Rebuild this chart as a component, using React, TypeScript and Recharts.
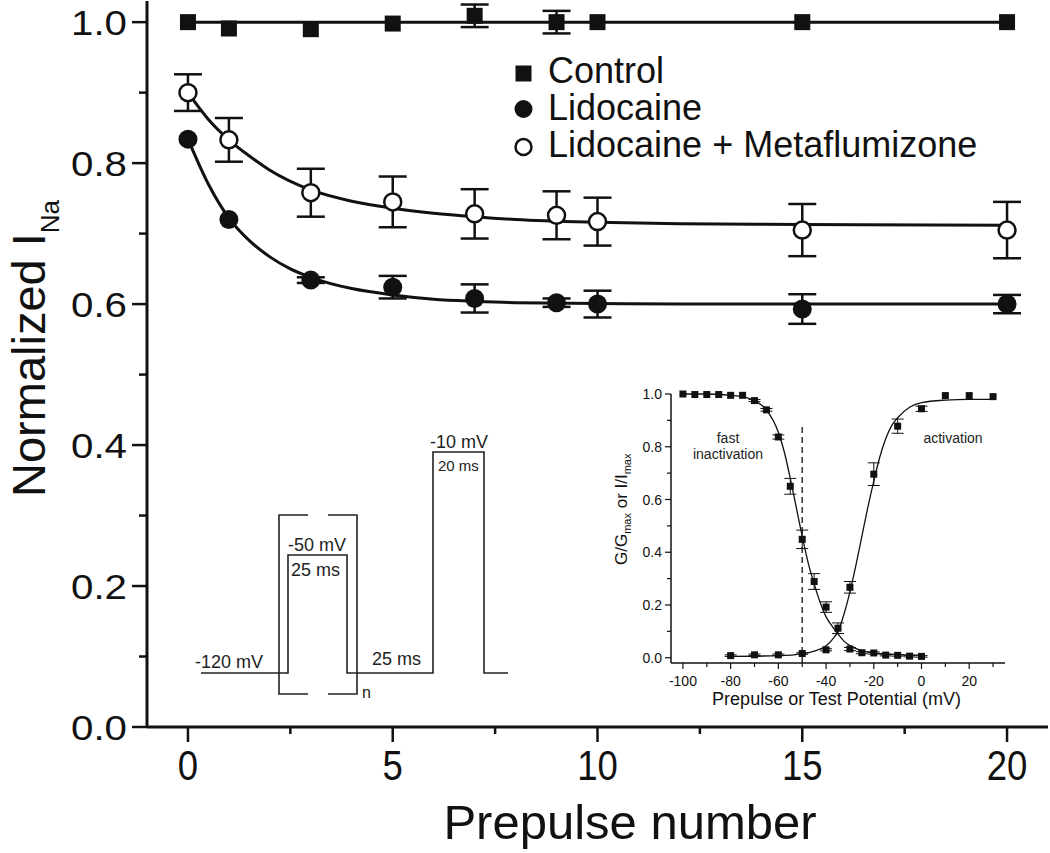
import React from 'react';
import {
  ComposedChart,
  Line,
  Scatter,
  XAxis,
  YAxis,
  ErrorBar,
  Legend,
  ReferenceLine,
} from 'recharts';

// ---- main panel: normalized I_Na vs prepulse number ----
const pulseNumbers = [0, 1, 3, 5, 7, 9, 10, 15, 20];
const controlValues = [1.0, 0.991, 0.99, 0.998, 1.009, 1.0, 1.0, 1.0, 1.0];
const controlErrors = [0, 0, 0, 0, 0.016, 0.016, 0, 0, 0];
const lidocaineValues = [0.834, 0.72, 0.634, 0.624, 0.608, 0.602, 0.6, 0.593, 0.6];
const lidocaineErrors = [0, 0, 0.004, 0.016, 0.02, 0.006, 0.019, 0.021, 0.013];
const metaValues = [0.9, 0.833, 0.758, 0.745, 0.728, 0.726, 0.717, 0.705, 0.705];
const metaErrors = [0.026, 0.031, 0.034, 0.036, 0.035, 0.034, 0.034, 0.037, 0.04];

// fitted curves
const controlFitX = [0, 20];
const controlFitY = [1.0, 1.0];
const lidoFitX = [0, 0.5, 1, 1.5, 2, 2.5, 3, 4, 5, 6, 7, 8, 10, 12, 15, 20];
const lidoFitY = [0.834, 0.77, 0.722, 0.69, 0.667, 0.65, 0.638, 0.622, 0.613, 0.607, 0.604, 0.602, 0.601, 0.6, 0.6, 0.6];
const metaFitX = [0, 0.5, 1, 1.5, 2, 3, 4, 5, 6, 7, 8, 10, 12, 15, 20];
const metaFitY = [0.9, 0.862, 0.833, 0.81, 0.79, 0.762, 0.746, 0.736, 0.729, 0.724, 0.72, 0.716, 0.714, 0.713, 0.712];

const mainYTicks = [0, 0.1, 0.2, 0.3, 0.4, 0.5, 0.6, 0.7, 0.8, 0.9, 1.0];
const mainXTicks = [0, 2.5, 5, 7.5, 10, 12.5, 15, 17.5, 20];

// ---- inset: steady-state inactivation / activation ----
const inactVoltages = [-100, -95, -90, -85, -80, -75, -70, -65, -60, -55, -50, -45, -40, -35, -30, -25, -20, -15, -10, -5, 0];
const inactValues = [1.0, 0.998, 0.998, 0.998, 0.995, 0.995, 0.975, 0.94, 0.837, 0.65, 0.449, 0.289, 0.192, 0.112, 0.033, 0.019, 0.018, 0.01, 0.009, 0.006, 0.005];
const inactErrors = [0, 0, 0, 0, 0, 0, 0.004, 0.005, 0.008, 0.03, 0.035, 0.03, 0.02, 0.02, 0.006, 0.004, 0.004, 0.003, 0.003, 0.003, 0.003];
const actVoltages = [-80, -70, -60, -50, -40, -30, -20, -10, 0, 10, 20, 30];
const actValues = [0.008, 0.011, 0.011, 0.016, 0.03, 0.267, 0.696, 0.878, 0.944, 0.994, 0.994, 0.99];
const actErrors = [0.003, 0.003, 0.003, 0.003, 0.004, 0.022, 0.043, 0.027, 0.01, 0, 0, 0];

const inactFitX = [-100, -90, -80, -75, -70, -65, -60, -57.5, -55, -52.5, -50, -47.5, -45, -42.5, -40, -37.5, -35, -32.5, -30, -25, -20, -10, 0];
const inactFitY = [1.0, 1.0, 0.995, 0.99, 0.975, 0.94, 0.855, 0.78, 0.68, 0.57, 0.46, 0.36, 0.28, 0.21, 0.155, 0.12, 0.09, 0.063, 0.046, 0.027, 0.018, 0.012, 0.01];
const actFitX = [-80, -60, -50, -45, -40, -37.5, -35, -32.5, -30, -27.5, -25, -22.5, -20, -17.5, -15, -12.5, -10, -5, 0, 10, 20, 30];
const actFitY = [0.005, 0.008, 0.015, 0.025, 0.045, 0.068, 0.1, 0.165, 0.25, 0.35, 0.46, 0.57, 0.67, 0.76, 0.83, 0.88, 0.91, 0.95, 0.967, 0.977, 0.98, 0.98];

const insetYTicks = [0, 0.1, 0.2, 0.3, 0.4, 0.5, 0.6, 0.7, 0.8, 0.9, 1.0];
const insetXTicks = [-100, -90, -80, -70, -60, -50, -40, -30, -20, -10, 0, 10, 20, 30];

const FONT = '"Liberation Sans", Arial, Helvetica, sans-serif';
const INK = '#111';

function toPoints(xs: number[], ys: number[], errs?: number[]) {
  return xs.map((x, i) => ({ x, y: ys[i], err: errs ? errs[i] : 0 }));
}

const controlPts = toPoints(pulseNumbers, controlValues, controlErrors);
const lidoPts = toPoints(pulseNumbers, lidocaineValues, lidocaineErrors);
const metaPts = toPoints(pulseNumbers, metaValues, metaErrors);
const inactPts = toPoints(inactVoltages, inactValues, inactErrors);
const actPts = toPoints(actVoltages, actValues, actErrors);

const NoMark = () => <g />;
const Square = (size: number) => (p: any) => (
  <rect x={p.cx - size / 2} y={p.cy - size / 2} width={size} height={size} fill={INK} />
);
const FilledCircle = (p: any) => <circle cx={p.cx} cy={p.cy} r={9.5} fill={INK} />;
const OpenCircle = (p: any) => (
  <circle cx={p.cx} cy={p.cy} r={8.5} fill="#fff" stroke={INK} strokeWidth={2.5} />
);

function MainYTick({ x, y, payload }: any) {
  const v = payload.value;
  const major = Math.round(v * 10) % 2 === 0;
  return (
    <g>
      <line x1={x - (major ? 15 : 8)} x2={x} y1={y} y2={y} stroke={INK} strokeWidth={2.5} />
      {major && (
        <text
          transform={`translate(${x - 20},${y}) scale(1.15,1)`}
          textAnchor="end"
          dy="0.36em"
          fontSize={35}
          fontFamily={FONT}
          fill={INK}
        >
          {v.toFixed(1)}
        </text>
      )}
    </g>
  );
}

function MainXTick({ x, y, payload }: any) {
  const v = payload.value;
  const major = v % 5 === 0;
  return (
    <g>
      <line x1={x} x2={x} y1={y} y2={y + (major ? 15 : 7)} stroke={INK} strokeWidth={2.5} />
      {major && (
        <text
          transform={`translate(${x},${y + 53}) scale(0.87,1)`}
          textAnchor="middle"
          fontSize={42}
          fontFamily={FONT}
          fill={INK}
        >
          {v}
        </text>
      )}
    </g>
  );
}

function InsetYTick({ x, y, payload }: any) {
  const v = payload.value;
  const major = Math.round(v * 10) % 2 === 0;
  return (
    <g>
      <line x1={x - (major ? 6 : 4)} x2={x} y1={y} y2={y} stroke={INK} strokeWidth={1.2} />
      {major && (
        <text x={x - 9} y={y} textAnchor="end" dy="0.36em" fontSize={14} fontFamily={FONT} fill={INK}>
          {v.toFixed(1)}
        </text>
      )}
    </g>
  );
}

function InsetXTick({ x, y, payload }: any) {
  const v = payload.value;
  const major = v % 20 === 0;
  return (
    <g>
      <line x1={x} x2={x} y1={y} y2={y + (major ? 6 : 4)} stroke={INK} strokeWidth={1.2} />
      {major && (
        <text x={x} y={y + 23} textAnchor="middle" fontSize={14} fontFamily={FONT} fill={INK}>
          {v}
        </text>
      )}
    </g>
  );
}

function renderLegend() {
  const rows = [
    { label: 'Control', cy: 23.5, base: 33, kind: 'square' },
    { label: 'Lidocaine', cy: 59, base: 70, kind: 'filled' },
    { label: 'Lidocaine + Metaflumizone', cy: 97, base: 107, kind: 'open' },
  ];
  return (
    <svg width={520} height={120} style={{ overflow: 'visible' }}>
      {rows.map((r) => (
        <g key={r.label}>
          {r.kind === 'square' && <rect x={15.5} y={r.cy - 8} width={16} height={16} fill={INK} />}
          {r.kind === 'filled' && <circle cx={23.5} cy={r.cy} r={9} fill={INK} />}
          {r.kind === 'open' && <circle cx={23.5} cy={r.cy} r={8} fill="#fff" stroke={INK} strokeWidth={2.5} />}
          <text x={48} y={r.base} fontSize={36} fontFamily={FONT} fill={INK}>
            {r.label}
          </text>
        </g>
      ))}
    </svg>
  );
}

export default function App() {
  return (
    <div style={{ position: 'absolute', left: 0, top: 0, width: 1050, height: 853, background: '#fff' }}>
      <ComposedChart width={1050} height={853} margin={{ top: 1, right: 2, left: 0, bottom: 0 }}>
        <XAxis
          type="number"
          dataKey="x"
          domain={[-1, 21]}
          ticks={mainXTicks}
          interval={0}
          height={126}
          tickSize={0}
          tickMargin={0}
          tickLine={false}
          axisLine={{ stroke: INK, strokeWidth: 3 }}
          tick={(p: any) => <MainXTick {...p} />}
          label={{
            content: () => (
              <text x={630} y={839} textAnchor="middle" fontSize={49} fontFamily={FONT} fill={INK}>
                Prepulse number
              </text>
            ),
          }}
        />
        <YAxis
          type="number"
          dataKey="y"
          domain={[0, 1.03]}
          ticks={mainYTicks}
          interval={0}
          width={147}
          tickSize={0}
          tickMargin={0}
          tickLine={false}
          axisLine={{ stroke: INK, strokeWidth: 3 }}
          tick={(p: any) => <MainYTick {...p} />}
          label={{
            content: () => (
              <text transform="translate(45,497) rotate(-90)" fontSize={47} fontFamily={FONT} fill={INK}>
                Normalized I
                <tspan fontSize={26} dy={14}>
                  Na
                </tspan>
              </text>
            ),
          }}
        />
        <Legend
          layout="horizontal"
          verticalAlign="middle"
          align="center"
          wrapperStyle={{ left: 500, top: 50, width: 520, height: 120 }}
          content={renderLegend}
        />
        <Line data={toPoints(controlFitX, controlFitY)} dataKey="y" type="linear" stroke={INK} strokeWidth={3} dot={false} isAnimationActive={false} legendType="none" />
        <Line data={toPoints(lidoFitX, lidoFitY)} dataKey="y" type="monotone" stroke={INK} strokeWidth={3} dot={false} isAnimationActive={false} legendType="none" />
        <Line data={toPoints(metaFitX, metaFitY)} dataKey="y" type="monotone" stroke={INK} strokeWidth={3} dot={false} isAnimationActive={false} legendType="none" />

        {/* error bars first, markers drawn on top of them */}
        <Scatter data={controlPts} shape={NoMark} isAnimationActive={false} legendType="none">
          <ErrorBar dataKey="err" direction="y" width={14} strokeWidth={2.5} stroke={INK} />
        </Scatter>
        <Scatter data={lidoPts} shape={NoMark} isAnimationActive={false} legendType="none">
          <ErrorBar dataKey="err" direction="y" width={14} strokeWidth={2.5} stroke={INK} />
        </Scatter>
        <Scatter data={metaPts} shape={NoMark} isAnimationActive={false} legendType="none">
          <ErrorBar dataKey="err" direction="y" width={14} strokeWidth={2.5} stroke={INK} />
        </Scatter>
        <Scatter name="Control" data={controlPts} shape={Square(16)} isAnimationActive={false} zIndex={1500} />
        <Scatter name="Lidocaine" data={lidoPts} shape={FilledCircle} isAnimationActive={false} zIndex={1500} />
        <Scatter name="Lidocaine + Metaflumizone" data={metaPts} shape={OpenCircle} isAnimationActive={false} zIndex={1500} />
      </ComposedChart>

      <div style={{ position: 'absolute', left: 590, top: 380 }}>
        <ComposedChart width={430} height={330} margin={{ top: 14, right: 15, left: 0, bottom: 0 }}>
          <XAxis
            type="number"
            dataKey="x"
            domain={[-105, 35]}
            ticks={insetXTicks}
            interval={0}
            height={47}
            tickSize={0}
            tickMargin={0}
            tickLine={false}
            axisLine={{ stroke: INK, strokeWidth: 1.5 }}
            tick={(p: any) => <InsetXTick {...p} />}
            label={{
              content: () => (
                <text x={246.5} y={325} textAnchor="middle" fontSize={18} fontFamily={FONT} fill={INK}>
                  Prepulse or Test Potential (mV)
                </text>
              ),
            }}
          />
          <YAxis
            type="number"
            dataKey="y"
            domain={[-0.02, 1.0]}
            ticks={insetYTicks}
            interval={0}
            width={81}
            tickSize={0}
            tickMargin={0}
            tickLine={false}
            axisLine={{ stroke: INK, strokeWidth: 1.5 }}
            tick={(p: any) => <InsetYTick {...p} />}
            label={{
              content: () => (
                <text transform="translate(37,185) rotate(-90)" fontSize={17} fontFamily={FONT} fill={INK}>
                  G/G
                  <tspan fontSize={11} dy={4}>max</tspan>
                  <tspan dy={-4}> or I/I</tspan>
                  <tspan fontSize={11} dy={4}>max</tspan>
                </text>
              ),
            }}
          />
          <ReferenceLine
            segment={[{ x: -50, y: -0.02 }, { x: -50, y: 0.88 }]}
            stroke="#333"
            strokeWidth={1.5}
            strokeDasharray="6 4"
          />
          <Line data={toPoints(inactFitX, inactFitY)} dataKey="y" type="monotone" stroke={INK} strokeWidth={1.3} dot={false} isAnimationActive={false} />
          <Line data={toPoints(actFitX, actFitY)} dataKey="y" type="monotone" stroke={INK} strokeWidth={1.3} dot={false} isAnimationActive={false} />
          <Scatter data={inactPts} shape={Square(7)} isAnimationActive={false}>
            <ErrorBar dataKey="err" direction="y" width={6} strokeWidth={1} stroke={INK} />
          </Scatter>
          <Scatter data={actPts} shape={Square(7)} isAnimationActive={false}>
            <ErrorBar dataKey="err" direction="y" width={6} strokeWidth={1} stroke={INK} />
          </Scatter>
        </ComposedChart>
      </div>

      <svg
        width={1050}
        height={853}
        style={{ position: 'absolute', left: 0, top: 0, pointerEvents: 'none' }}
        fontFamily={FONT}
        fill="#222"
      >
        {/* inset annotations */}
        <text x={728} y={443} textAnchor="middle" fontSize={14}>fast</text>
        <text x={728} y={459} textAnchor="middle" fontSize={14}>inactivation</text>
        <text x={953} y={443} textAnchor="middle" fontSize={14}>activation</text>

        {/* voltage protocol */}
        <g fill="none" stroke="#222" strokeWidth={1.6}>
          <polyline points="201,673 288,673 288,555 347,555 347,673 433,673 433,452 484,452 484,673 508,673" />
          <path d="M308,515 H279 V694 H308" />
          <path d="M328,515 H357 V694 H328" />
        </g>
        <text x={195} y={668} fontSize={18}>-120 mV</text>
        <text x={288} y={551} fontSize={18}>-50 mV</text>
        <text x={291} y={576} fontSize={18}>25 ms</text>
        <text x={372} y={665} fontSize={18}>25 ms</text>
        <text x={430} y={448} fontSize={18}>-10 mV</text>
        <text x={438} y={471} fontSize={15}>20 ms</text>
        <text x={362} y={698} fontSize={16}>n</text>
      </svg>
    </div>
  );
}
